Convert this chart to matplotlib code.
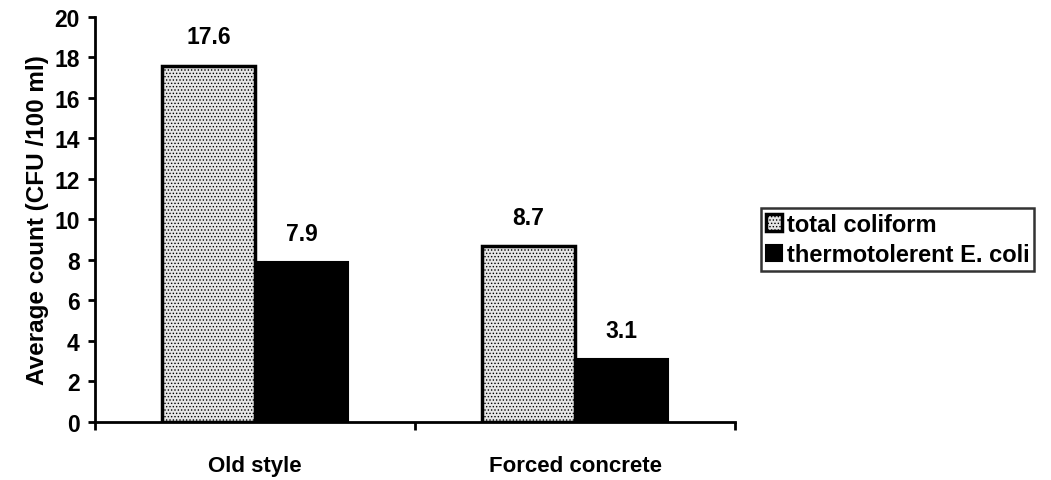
import numpy as np
import matplotlib.pyplot as plt

plt.rcParams['font.family'] = ['Liberation Sans', 'DejaVu Sans']
plt.rcParams['font.weight'] = 'bold'
plt.rcParams['hatch.color'] = '#555555'
plt.rcParams['hatch.linewidth'] = 0.6

# data
categories = ['Old style', 'Forced concrete']
total_coliform = [17.6, 8.7]
ecoli = [7.9, 3.1]
series_names = ['total coliform', 'thermotolerent E. coli']

fig = plt.figure(figsize=(10.51, 4.81), dpi=100)
ax = fig.add_axes([0.0904, 0.1206, 0.609, 0.842])

x = np.arange(len(categories))
w = 0.29
b1 = ax.bar(x - w / 2, total_coliform, w, facecolor='#e6e6e6', edgecolor='black',
            linewidth=2.5, hatch='.....', label=series_names[0])
b2 = ax.bar(x + w / 2, ecoli, w, facecolor='black', edgecolor='black',
            linewidth=1.5, label=series_names[1])

for bars, vals in ((b1, total_coliform), (b2, ecoli)):
    for r, v in zip(bars, vals):
        ax.text(r.get_x() + r.get_width() / 2, v + 0.85, f'{v}', ha='center', va='bottom',
                fontsize=16.5, fontweight='bold')

ax.set_xlim(-0.5, len(categories) - 0.5)
ax.set_ylim(0, 20)
ax.set_yticks(range(0, 21, 2))
ax.set_xticks(x)
ax.set_xticklabels(categories, fontsize=16, fontweight='bold')
ax.set_xticks(np.arange(-0.5, len(categories)), minor=True)
ax.tick_params(axis='x', which='major', length=0, pad=24)
ax.tick_params(axis='x', which='minor', length=6, width=2, direction='out')
ax.tick_params(axis='y', length=5, width=2, labelsize=16.5, pad=6)

for s in ['top', 'right']:
    ax.spines[s].set_visible(False)
ax.spines['left'].set_linewidth(2)
ax.spines['bottom'].set_linewidth(2)

ax.set_ylabel('Average count (CFU /100 ml)', fontsize=17.5, fontweight='bold', labelpad=4)

leg = fig.legend(loc='center left', bbox_to_anchor=(0.713, 0.5), fontsize=17,
                 frameon=True, fancybox=False, edgecolor='black', handlelength=0.7,
                 handleheight=0.7, handletextpad=0.2, borderpad=0.2, labelspacing=0.3)
leg.get_frame().set_linewidth(1.8)

fig.savefig('out.png', dpi=100)
